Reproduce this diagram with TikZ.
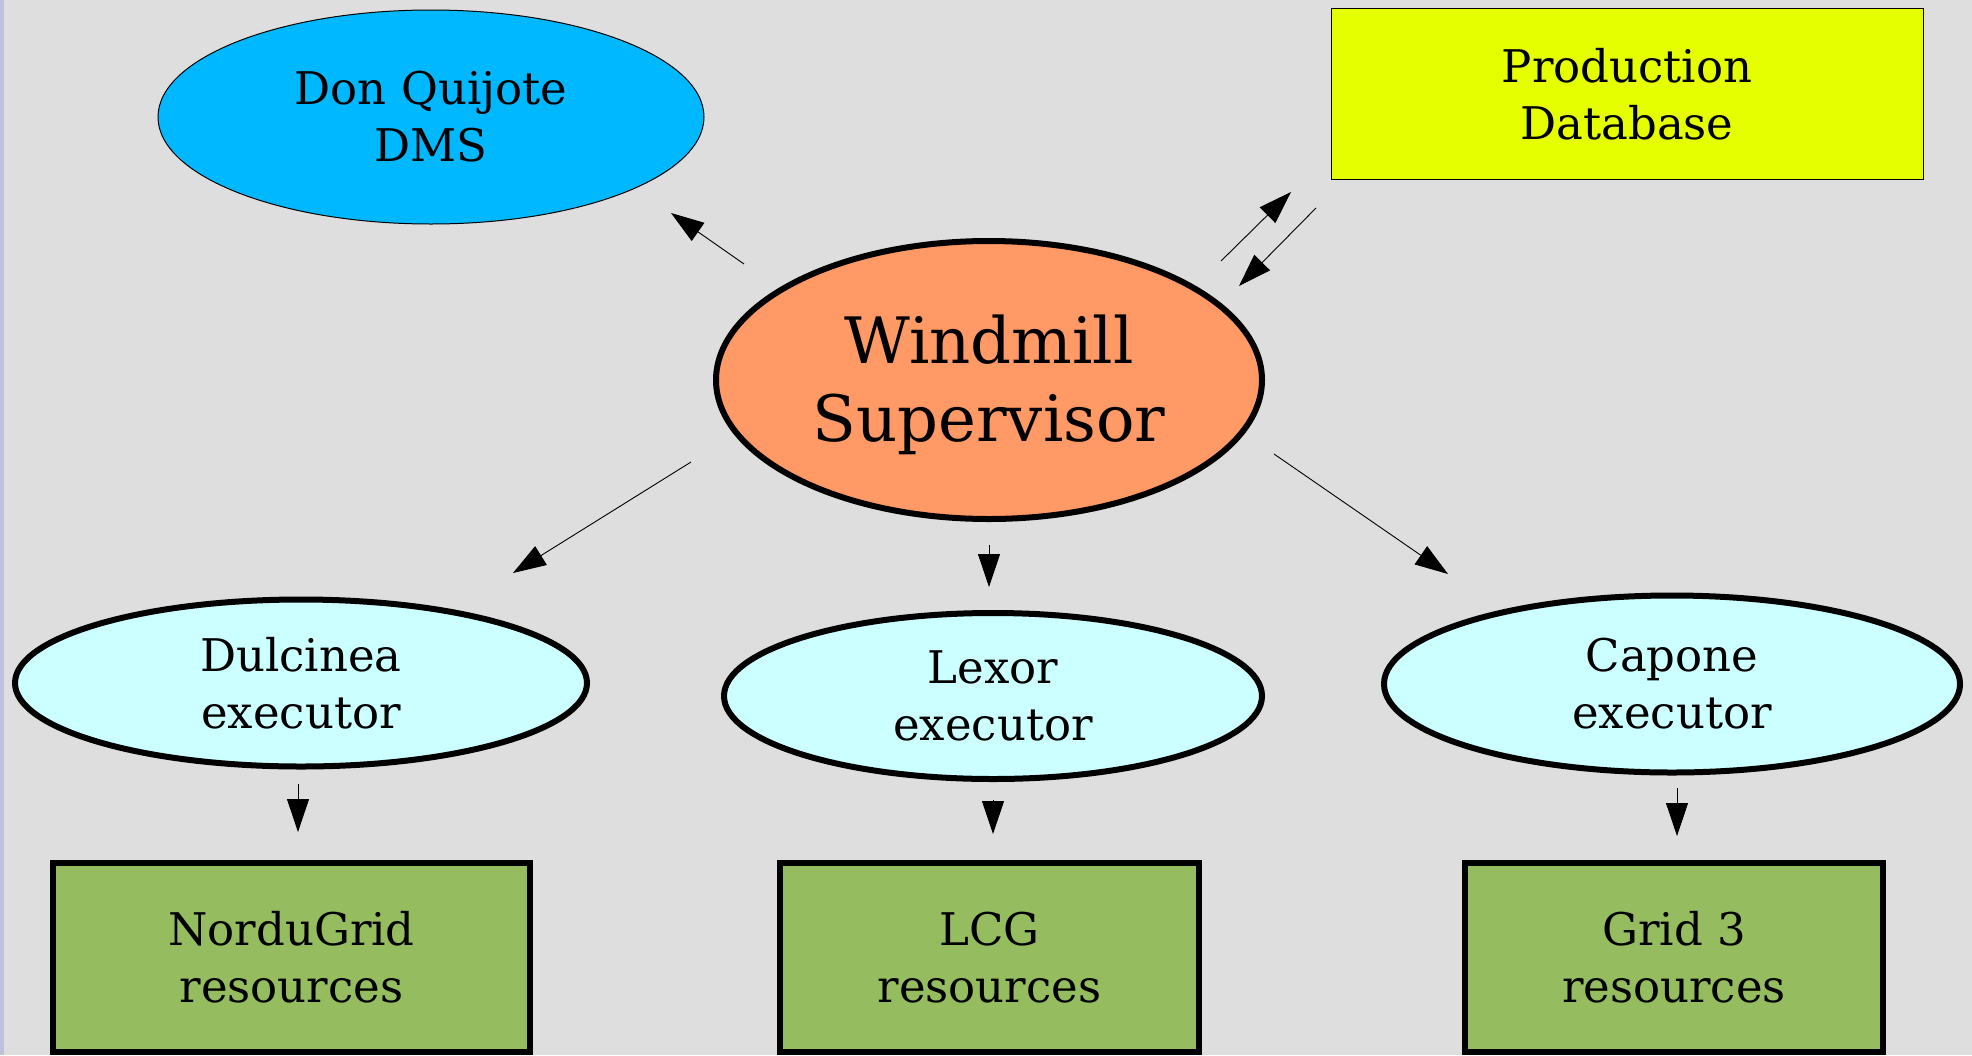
\documentclass[tikz,border=0pt]{standalone}
\usepackage{fontspec}
\setmainfont{DejaVu Serif}
\usetikzlibrary{shapes.geometric,arrows.meta}
\definecolor{bgc}{HTML}{DEDEDE}
\definecolor{stripc}{HTML}{BDC1DC}
\definecolor{dqc}{HTML}{00B8FF}
\definecolor{pdc}{HTML}{E6FF00}
\definecolor{supc}{HTML}{FF9966}
\definecolor{execc}{HTML}{CCFFFF}
\definecolor{resc}{HTML}{95BC5F}
\begin{document}
\begin{tikzpicture}[x=1pt,y=-1pt,
  arr/.style={-{Triangle[length=33pt,width=22pt]}, line width=0.9pt, black},
  small/.style={font=\fontsize{45}{57}\selectfont, align=center, text=black},
  thinell/.style={ellipse, draw=black, line width=1pt, inner sep=0pt, small},
  exec/.style={ellipse, draw=black, line width=6pt, fill=execc, inner sep=0pt, small},
  res/.style={rectangle, draw=black, line width=6pt, fill=resc, inner sep=0pt, small},
]
\useasboundingbox (0,0) rectangle (1972,1055);
\fill[bgc] (0,0) rectangle (1972,1055);
\fill[stripc] (0,0) rectangle (4,1055);

% top row
\node[thinell, fill=dqc, minimum width=546pt, minimum height=214pt] (dq) at (431,117) {Don Quijote\\DMS};
\node[rectangle, draw=black, line width=1pt, fill=pdc, inner sep=0pt, small,
      minimum width=592pt, minimum height=171pt] (pd) at (1627,94) {Production\\Database};

% supervisor
\node[ellipse, draw=black, line width=6pt, fill=supc, inner sep=0pt,
      minimum width=546pt, minimum height=278pt,
      font=\fontsize{64}{78}\selectfont, align=center] (sup) at (989,380)
      {\rule{0pt}{59pt}Windmill\\Supervisor};

% executors
\node[exec, minimum width=572pt, minimum height=167pt] (dul) at (301,683) {Dulcinea\\executor};
\node[exec, minimum width=538pt, minimum height=166pt] (lex) at (993,696) {Lexor\\executor};
\node[exec, minimum width=576pt, minimum height=177pt] (cap) at (1672,684) {Capone\\executor};

% resources
\node[res, minimum width=477pt, minimum height=189pt] (ng) at (291.5,957.5) {NorduGrid\\resources};
\node[res, minimum width=419pt, minimum height=189pt] (lcg) at (989.5,957.5) {LCG\\resources};
\node[res, minimum width=418pt, minimum height=189pt] (g3) at (1674,957.5) {Grid 3\\resources};

% arrow end points
\coordinate (a1s) at (744,264);  \coordinate (a1e) at (671,213);
\coordinate (a2s) at (1221,261); \coordinate (a2e) at (1291,192);
\coordinate (a3s) at (1316,208); \coordinate (a3e) at (1239,286);
\coordinate (a4s) at (691,462);  \coordinate (a4e) at (513,573);
\coordinate (a5s) at (989,545);  \coordinate (a5e) at (989,587);
\coordinate (a6s) at (1274,454); \coordinate (a6e) at (1448,574);
\coordinate (a7s) at (298,784);  \coordinate (a7e) at (298,832);
\coordinate (a8s) at (993,800);  \coordinate (a8e) at (993,834);
\coordinate (a9s) at (1677,788); \coordinate (a9e) at (1677,836);

\draw[arr] (a1s) -- (a1e);
\draw[arr] (a2s) -- (a2e);
\draw[arr] (a3s) -- (a3e);
\draw[arr] (a4s) -- (a4e);
\draw[arr] (a5s) -- (a5e);
\draw[arr] (a6s) -- (a6e);
\draw[arr] (a7s) -- (a7e);
\draw[arr] (a8s) -- (a8e);
\draw[arr] (a9s) -- (a9e);
\end{tikzpicture}
\end{document}
